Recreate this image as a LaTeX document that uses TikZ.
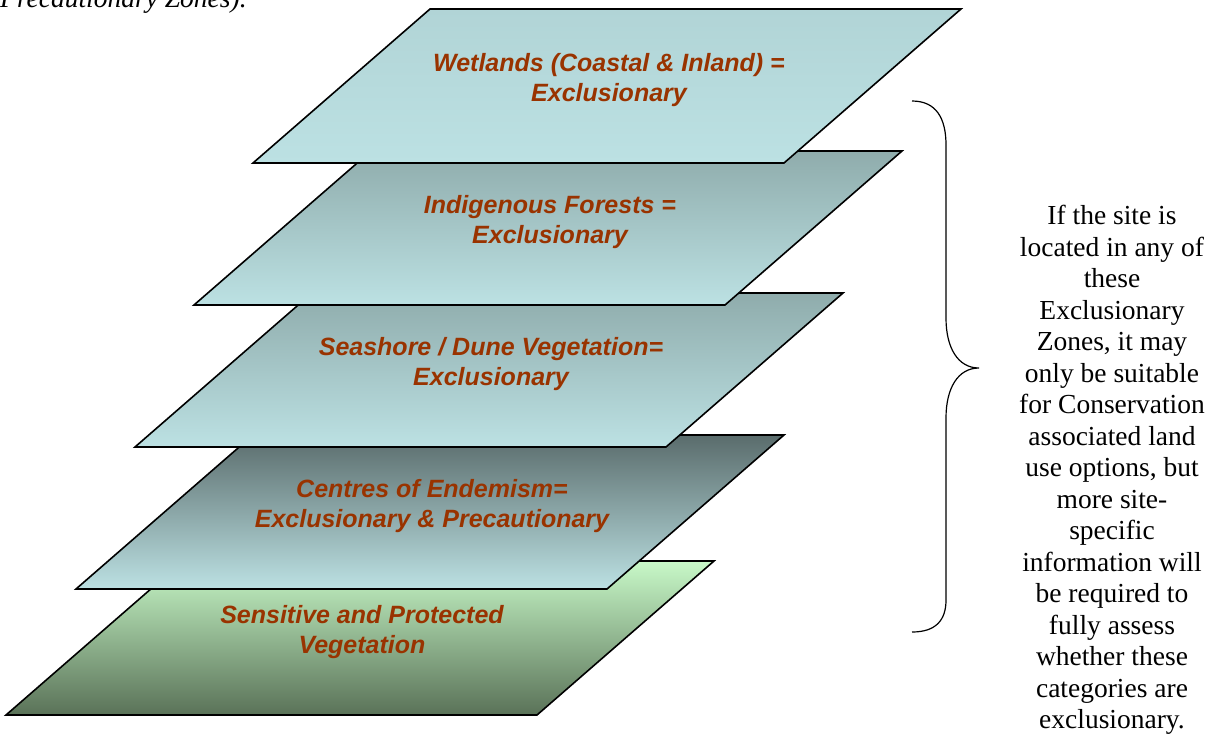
\documentclass[tikz,border=0pt]{standalone}
\usepackage{fontspec}
\setmainfont{Liberation Serif}
\newfontfamily\arialfont{Liberation Sans}
\usepackage{xcolor}
\usetikzlibrary{positioning}

\definecolor{zonebrown}{HTML}{993300}
\definecolor{paleteal}{HTML}{BCE1E3}
\definecolor{wettop}{HTML}{B1D4D6}
\definecolor{greyteal}{HTML}{8FACAC}
\definecolor{slateteal}{HTML}{5A6C6C}
\definecolor{palegreen}{HTML}{C8F9C8}
\definecolor{darkgreen}{HTML}{5A7258}

% one sheet of the stack: name, top right corner, top colour, bottom colour, text
\newcommand{\zonesheet}[5]{%
  \coordinate (#1) at #2;
  \draw[sheet, top color=#3, bottom color=#4] (#1) -- ++(-531,0) -- ++(-177,154) -- ++(531,0) -- cycle;
  \node[zonelabel] (#1 text) at ([shift={(-352,71)}]#1) {#5};
}

\begin{document}
\begin{tikzpicture}[x=1pt, y=-1pt]

\tikzstyle{sheet} = [draw=black, line width=1.6pt, line join=miter]
\tikzstyle{zonelabel} = [align=center, inner sep=0pt, text=zonebrown, font=\arialfont\bfseries\itshape\fontsize{25}{29.5}\selectfont]
\tikzstyle{note} = [align=center, inner sep=0pt, font=\fontsize{27.5}{31.5}\selectfont]

\useasboundingbox[fill=white] (0,0) rectangle (1218,734);

% stack, bottom sheet first
\zonesheet{vegetation}{(714,561)}{palegreen}{darkgreen}{Sensitive and Protected\\Vegetation}
\zonesheet{endemism}{(784,435)}{slateteal}{paleteal}{Centres of Endemism=\\Exclusionary \& Precautionary}
\zonesheet{seashore}{(843,293)}{greyteal}{paleteal}{Seashore / Dune Vegetation=\\Exclusionary}
\zonesheet{forests}{(902,151)}{greyteal}{paleteal}{Indigenous Forests =\\Exclusionary}
\zonesheet{wetlands}{(961,9)}{wettop}{paleteal}{Wetlands (Coastal \& Inland) =\\Exclusionary}

\node[anchor=base west, inner sep=0pt, font=\itshape\fontsize{27.5}{31.5}\selectfont] (intro) at (0,7) {Precautionary Zones).};

% brace
\coordinate (brace top) at (912,101);
\coordinate (brace tip) at (979,368);
\coordinate (brace bottom) at (912,632);
\draw[line width=1.2pt] (brace top) .. controls (936,101) and (946,118) .. (946,145) -- (946,318)
  .. controls (946,348) and (958,368) .. (brace tip)
  .. controls (958,368) and (946,388) .. (946,418) -- (946,600)
  .. controls (946,620) and (936,632) .. (brace bottom);

\node[note, anchor=north] (advice) at (1112,205) {If the site is\\located in any of\\these\\Exclusionary\\Zones, it may\\only be suitable\\for Conservation\\associated land\\use options, but\\more site-\\specific\\information will\\be required to\\fully assess\\whether these\\categories are\\exclusionary.};

\end{tikzpicture}
\end{document}
